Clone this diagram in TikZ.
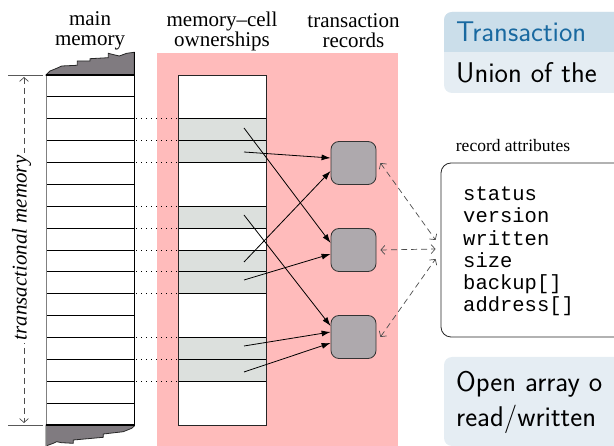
\documentclass[tikz,border=0pt]{standalone}
\usepackage{fontspec}
\setmainfont{Liberation Serif}
\setmonofont{Liberation Mono}
\usetikzlibrary{arrows.meta}
\definecolor{pinkbg}{RGB}{255,187,187}
\definecolor{cellgray}{RGB}{220,224,221}
\definecolor{recfill}{RGB}{174,169,173}
\definecolor{memdark}{RGB}{128,123,128}
\definecolor{blkhead}{RGB}{203,222,234}
\definecolor{blkbody}{RGB}{229,237,243}
\definecolor{blktitle}{RGB}{25,105,160}
\tikzset{
  lbl/.style={font=\fontsize{21}{20}\selectfont, align=center, inner sep=0pt},
  recbox/.style={draw=black!80, fill=recfill, rounded corners=8pt, minimum width=45pt, minimum height=43pt, line width=0.8pt, inner sep=0pt},
  own/.style={-{Latex[length=9pt,width=6pt]}, line width=0.8pt},
  link/.style={dash pattern=on 6pt off 4pt, line width=0.7pt, draw=black!70, {Straight Barb[length=4pt,width=9pt]}-{Straight Barb[length=4pt,width=9pt]}},
  dotline/.style={dash pattern=on 1pt off 4pt, line width=0.9pt},
  cellline/.style={line width=0.9pt},
  attr/.style={font=\ttfamily\fontsize{20.5}{22}\selectfont, anchor=base west, inner sep=0pt},
  beam/.style={font=\sffamily\fontsize{28.5}{34}\selectfont, anchor=base west, inner sep=0pt}
}
\begin{document}
\begin{tikzpicture}[x=1pt,y=-1pt]
\clip (0,0) rectangle (614,446);
% pink ownership/records region
\fill[pinkbg] (157,53) rectangle (398,447);
% ---------- main memory ----------
\fill[white] (46,75) rectangle (134,425);
\foreach \k in {1,...,15} {
  \draw[cellline] (46,75+\k*21.875) -- (134,75+\k*21.875);
}
\filldraw[fill=memdark, draw=black!85, line width=0.8pt]
  (46,75) -- (50,71) -- (56.7,68.3) -- (61.7,66) -- (77.3,65.3) -- (77.3,61) -- (90,61) -- (90,58.7)
  -- (108.3,57.7) -- (108.3,53.3) -- (115,55) -- (119.3,56) -- (126.7,53.3) -- (134.3,52.3) -- (134.3,75) -- cycle;
\filldraw[fill=memdark, draw=black!85, line width=0.8pt]
  (46,425) -- (134.3,425) -- (134.3,426) -- (131.7,428.3) -- (123.3,431.7) -- (103.3,434) -- (103.3,437.3)
  -- (73.3,440) -- (73.3,443.3) -- (61.7,442.7) -- (56.7,441.7) -- (53.3,443.3) -- (46.7,445.7) -- (46,446) -- cycle;
\draw[gray, line width=1pt] (46,75) -- (46,447);
\draw[line width=1pt] (134.3,52) -- (134.3,426);
\draw[line width=1.1pt] (46,75) -- (134.3,75);
\draw[line width=1.1pt] (46,425) -- (134.3,425);
% ticks and transactional memory arrow
\draw[gray!70!black, line width=0.8pt] (8,75) -- (43,75);
\draw[gray!70!black, line width=0.8pt] (8,425) -- (43,425);
\coordinate (tt) at (24,77);
\coordinate (tb) at (24,423);
\draw[link] (tt) -- (tb);
\node[rotate=90, fill=white, inner sep=3pt, font=\itshape\fontsize{21}{24}\selectfont] (tm) at (21.5,248) {transactional memory};
% ---------- ownership column ----------
\fill[white] (178,75) rectangle (266,425);
\foreach \r in {2,3,6,8,9,12,13} {
  \fill[cellgray] (178,75+\r*21.875) rectangle (266,75+\r*21.875+21.875);
}
\foreach \k in {2,3,4,6,7,8,9,10,12,13,14} {
  \draw[cellline] (178,75+\k*21.875) -- (266,75+\k*21.875);
  \draw[dotline] (136,75+\k*21.875) -- (177,75+\k*21.875);
}
\draw[black!85, line width=0.9pt] (178,75) rectangle (266,425);
% ---------- labels ----------
\node[lbl] (lmain) at (90,31) {main\\memory};
\node[lbl] (lown) at (222,31) {memory--cell\\ownerships};
\node[lbl] (lrec) at (353.5,31) {transaction\\records};
% ---------- records ----------
\node[recbox] (r1) at (353.5,163) {};
\node[recbox] (r2) at (353.5,250) {};
\node[recbox] (r3) at (353.5,337) {};
% ownership arrows
\coordinate (c2) at (244,128);
\coordinate (c3) at (244,152);
\coordinate (c6) at (244,215);
\coordinate (c8) at (244,262);
\coordinate (c9) at (244,280);
\coordinate (c12) at (244,346);
\coordinate (c13) at (244,372);
\draw[own] (c2) -- ([yshift=7pt]r2.west);
\draw[own] (c3) -- ([yshift=5pt]r1.west);
\draw[own] (c6) -- ([yshift=11pt]r3.west);
\draw[own] (c8) -- ([yshift=-8pt]r1.west);
\draw[own] (c9) -- ([yshift=-4pt]r2.west);
\draw[own] (c12) -- ([yshift=5pt]r3.west);
\draw[own] (c13) -- ([yshift=-6pt]r3.west);
% ---------- record attributes ----------
\node[font=\fontsize{17.5}{20}\selectfont, anchor=base, inner sep=0pt] (lattr) at (513,152) {record attributes};
\node[draw=black!85, line width=0.8pt, rounded corners=10pt, minimum width=199pt, minimum height=174pt, inner sep=0pt] (attr) at (540.5,250) {};
\foreach \t/\n [count=\i from 0] in {status/a1,version/a2,written/a3,size/a4,backup[]/a5,address[]/a6} {
  \node[attr] (\n) at (463,200.7+\i*22.2) {\t};
}
\draw[link] ([xshift=4pt]r1.east) -- ([xshift=-5pt,yshift=10pt]attr.west);
\draw[link] ([xshift=4pt]r2.east) -- ([xshift=-5pt,yshift=1pt]attr.west);
\draw[link] ([xshift=4pt]r3.east) -- ([xshift=-5pt,yshift=-9pt]attr.west);
% ---------- beamer blocks ----------
\fill[blkbody, rounded corners=8pt] (444,12) rectangle (640,93);
\fill[blkhead, rounded corners=8pt] (444,12) rectangle (640,62);
\fill[blkbody] (444,52) rectangle (640,70);
\node[beam, text=blktitle] (btitle) at (456,41.7) {Transaction};
\node[beam] (bbody) at (456,83) {Union of the};
\fill[blkbody, rounded corners=8pt] (444,357) rectangle (640,446);
\node[beam] (ob1) at (456,391.5) {Open array o};
\node[beam] (ob2) at (456,426.5) {read/written};
\end{tikzpicture}
\end{document}
